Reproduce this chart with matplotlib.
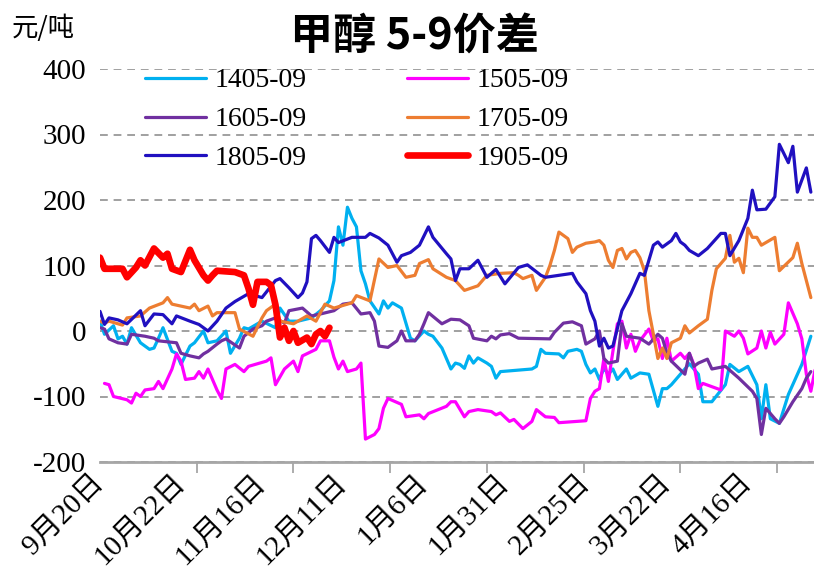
import matplotlib
matplotlib.use("Agg")
import matplotlib.pyplot as plt

plt.rcParams['font.family'] = ['Liberation Serif', 'Noto Sans CJK SC']
plt.rcParams['axes.unicode_minus'] = False

# Dates shown on the axis (every 18 trading days)
date_labels = ["9月20日", "10月22日", "11月16日", "12月11日", "1月6日",
               "1月31日", "2月25日", "3月22日", "4月16日"]
label_pos = [0, 18, 36, 54, 72, 90, 108, 126, 144]

# Spreads (元/吨), x = trading day index from 9/20
x_1405 = [0, 1, 3, 4, 5, 6, 7, 9, 11, 12, 13, 14, 16, 17, 18, 20, 21, 23, 24, 26,
          28, 29, 31, 32, 33, 36, 39, 40, 42, 44, 47, 49, 51, 52, 53, 54, 55, 56, 57, 58,
          59, 60, 62, 63, 64, 65, 67, 69, 70, 72, 73, 74, 76, 78, 79, 80, 81, 82, 83, 84,
          86, 87, 88, 89, 96, 97, 98, 99, 102, 103, 104, 106, 107, 108, 109, 110, 111, 112, 113, 114,
          115, 117, 118, 120, 122, 124, 125, 126, 127, 129, 131, 133, 134, 136, 139, 140, 142, 144, 146, 147,
          148, 149, 151, 153, 156, 158]
y_1405 = [15, -5, 8, -12, -8, -20, 5, -18, -28, -26, -11, 5, -31, -34, -51, -23, -18, 0, -18, -15,
          0, -34, -11, 5, 3, 15, 5, 35, 15, 15, 20, 31, 46, 77, 159, 131, 189, 172, 159, 92,
          72, 46, 26, 46, 35, 43, 35, -11, -15, 0, -5, -8, -26, -58, -49, -51, -57, -38, -49, -41,
          -49, -54, -72, -62, -58, -54, -28, -34, -35, -41, -31, -28, -31, -51, -64, -58, -74, -57, -66, -58,
          -74, -58, -72, -64, -66, -115, -88, -88, -82, -66, -50, -66, -108, -108, -82, -51, -62, -54, -82, -134,
          -82, -134, -141, -97, -51, -8]

x_1505 = [1, 2, 3, 6, 7, 8, 9, 10, 12, 13, 14, 16, 17, 18, 19, 21, 22, 23, 24, 26,
          27, 28, 30, 32, 33, 37, 38, 39, 41, 43, 44, 45, 48, 49, 51, 52, 53, 54, 55, 57,
          58, 59, 61, 62, 63, 64, 67, 68, 71, 72, 73, 77, 78, 79, 81, 82, 84, 87, 88, 89,
          91, 92, 94, 96, 97, 99, 101, 102, 106, 108, 109, 110, 111, 112, 113, 114, 115, 116, 117, 118,
          119, 120, 122, 123, 124, 125, 126, 127, 129, 130, 131, 132, 133, 134, 138, 139, 141, 142, 143, 144,
          146, 147, 148, 149, 150, 152, 153, 155, 156, 157, 158, 159]
y_1505 = [-80, -82, -100, -105, -110, -95, -100, -90, -88, -77, -88, -58, -35, -46, -74, -72, -62, -72, -58, -90,
          -103, -58, -51, -62, -54, -46, -41, -82, -58, -46, -62, -38, -28, -15, -15, -40, -58, -46, -62, -58,
          -49, -165, -158, -149, -118, -103, -112, -131, -128, -134, -126, -115, -108, -108, -131, -123, -120, -123, -128, -125,
          -138, -135, -149, -138, -120, -131, -132, -140, -138, -137, -103, -92, -88, -42, -77, -31, 11, 15, -26, -5,
          -31, -15, 3, -15, -12, -42, -11, -46, -34, -42, -34, -51, -88, -80, -90, 0, -8, 0, -11, -35,
          -26, 0, -26, -2, -20, -5, 43, 11, -12, -66, -92, -57]

x_1605 = [0, 1, 2, 4, 6, 7, 10, 12, 13, 17, 18, 20, 22, 23, 24, 26, 27, 28, 31, 32,
          34, 36, 37, 39, 41, 42, 45, 47, 49, 52, 54, 56, 58, 60, 61, 62, 64, 66, 67, 68,
          70, 71, 72, 73, 76, 78, 80, 82, 83, 86, 87, 88, 89, 91, 93, 100, 101, 103, 105, 107,
          108, 110, 111, 112, 113, 115, 116, 117, 120, 122, 124, 125, 126, 127, 130, 131, 132, 133, 135, 136,
          139, 142, 145, 146, 147, 148, 150, 151, 152, 154, 156, 157, 158]
y_1605 = [5, 3, -12, -18, -20, -5, -8, -11, -15, -18, -34, -38, -41, -35, -31, -20, -15, -12, -26, -8,
          3, 8, 15, 20, 12, 31, 35, 23, 26, 31, 41, 43, 26, 28, 15, -23, -25, -15, 0, -15,
          -15, -5, 11, 28, 11, 18, 17, 8, -11, -15, -8, -12, -6, -4, -11, -12, -2, 12, 14, 8,
          -20, -12, 0, -42, -49, -46, 11, -8, -11, -20, -5, -11, -34, -46, -66, -34, -54, -49, -43, -58,
          -54, -72, -92, -103, -158, -118, -134, -141, -131, -108, -88, -72, -62]

x_1705 = [0, 1, 2, 5, 6, 9, 11, 14, 15, 16, 20, 21, 22, 24, 25, 26, 30, 31, 34, 36,
          37, 39, 40, 43, 46, 48, 50, 52, 56, 57, 60, 62, 64, 66, 68, 70, 71, 73, 74, 77,
          79, 81, 84, 86, 89, 92, 93, 94, 96, 97, 99, 100, 101, 102, 104, 105, 106, 108, 110, 111,
          112, 113, 114, 115, 116, 117, 118, 119, 120, 121, 122, 123, 124, 125, 126, 127, 129, 130, 131, 133,
          135, 136, 137, 139, 140, 141, 142, 143, 144, 145, 146, 147, 150, 151, 154, 155, 156, 158]
y_1705 = [15, 12, 15, 9, 20, 23, 35, 43, 51, 41, 35, 41, 31, 38, 23, 28, 28, 3, -8, 20,
          31, 41, 15, 11, 23, 15, 41, 35, 43, 54, 46, 110, 97, 100, 82, 85, 103, 109, 95, 82,
          77, 62, 69, 85, 88, 89, 85, 80, 85, 62, 82, 100, 123, 151, 141, 120, 128, 134, 136, 138,
          131, 108, 97, 123, 126, 110, 120, 123, 112, 92, 31, -5, -42, -26, -42, -18, -11, 8, -3, 8,
          18, 62, 95, 111, 146, 105, 111, 89, 157, 143, 143, 131, 143, 92, 112, 134, 103, 51]

x_1805 = [0, 1, 2, 4, 6, 9, 10, 12, 14, 16, 17, 20, 22, 24, 26, 28, 30, 33, 36, 39,
          40, 42, 44, 45, 46, 47, 48, 49, 51, 52, 53, 56, 59, 60, 62, 64, 66, 67, 69, 71,
          73, 74, 77, 78, 79, 80, 82, 84, 86, 88, 90, 93, 95, 98, 99, 105, 106, 108, 109, 110,
          111, 112, 113, 114, 116, 118, 120, 121, 123, 124, 125, 127, 128, 129, 130, 131, 133, 135, 138, 139,
          140, 142, 144, 145, 146, 148, 150, 151, 153, 154, 155, 157, 158]
y_1805 = [30, 10, 20, 17, 11, 31, 8, 26, 25, 11, 23, 15, 10, 0, 15, 35, 45, 57, 51, 77,
          80, 66, 51, 58, 75, 141, 146, 138, 120, 143, 135, 143, 143, 149, 142, 131, 105, 115, 120, 131,
          159, 143, 118, 110, 77, 95, 95, 108, 82, 94, 72, 97, 101, 85, 82, 88, 75, 57, 31, 15,
          -23, -11, -26, -23, 31, 57, 88, 85, 131, 136, 128, 138, 149, 136, 131, 123, 115, 126, 149, 149,
          115, 138, 172, 215, 185, 186, 205, 285, 257, 282, 212, 249, 212]

x_1905 = [0, 1, 3, 5, 6, 8, 9, 10, 12, 14, 15, 16, 18, 20, 21, 23, 24, 25, 26, 30,
          32, 33, 34, 35, 37, 38, 39, 40, 41, 42, 43, 44, 46, 47, 48, 49, 50, 51]
y_1905 = [112, 95, 95, 95, 82, 97, 108, 100, 126, 112, 118, 95, 90, 124, 108, 85, 77, 85, 92, 90,
          85, 65, 40, 75, 75, 70, 40, -10, 5, -15, 0, -18, -10, -20, -5, 0, -8, 5]

series = [
    ("1405-09", x_1405, y_1405, "#00B0F0", 2.3),
    ("1505-09", x_1505, y_1505, "#FF00FF", 2.3),
    ("1605-09", x_1605, y_1605, "#7030A0", 2.3),
    ("1705-09", x_1705, y_1705, "#ED7D31", 2.3),
    ("1805-09", x_1805, y_1805, "#2010C0", 2.3),
    ("1905-09", x_1905, y_1905, "#FF0000", 4.8),
]

fig = plt.figure(figsize=(8.14, 5.77), dpi=100)
ax = fig.add_axes([100 / 814, 1 - 462 / 577, 1 - 100 / 814, (462 - 69) / 577])

lines = {}
for name, xs, ys, color, lw in series:
    ln, = ax.plot(xs, ys, color=color, linewidth=lw, label=name,
                  solid_joinstyle="round", solid_capstyle="round")
    lines[name] = ln

ax.set_xlim(0, 158.7)
ax.set_ylim(-200, 400)
ax.set_yticks(range(-200, 401, 100))
ax.tick_params(axis="y", length=0, pad=10, labelsize=21)

# labels every 18 days, tick marks at a different interval (as in the source)
ax.set_xticks(label_pos)
ax.set_xticklabels(date_labels, rotation=45, ha="right", va="center",
                   rotation_mode="anchor", fontsize=21)
ax.tick_params(axis="x", which="major", length=0, pad=12)
ax.set_xticks([i * 21.5 for i in range(8)], minor=True)
ax.tick_params(axis="x", which="minor", length=8, width=1.3, color="#A6A6A6", direction="out")

ax.yaxis.grid(True, color="#A0A0A0", linestyle=(0, (4, 3)), linewidth=1.4)
ax.set_axisbelow(True)
for s in ["top", "right", "left"]:
    ax.spines[s].set_visible(False)
ax.spines["bottom"].set_color("#A6A6A6")
ax.spines["bottom"].set_linewidth(2)

order = ["1405-09", "1605-09", "1805-09", "1505-09", "1705-09", "1905-09"]
ax.legend([lines[n] for n in order], order, ncol=2, frameon=False,
          loc="upper left", bbox_to_anchor=(145 / 814, 1 - 68 / 577),
          bbox_transform=fig.transFigure, fontsize=20, borderpad=0,
          borderaxespad=0, handlelength=2.2, handletextpad=0.3,
          labelspacing=0.48, columnspacing=3.6)

fig.text(414 / 814, 1 - 36 / 577, "甲醇 5-9价差", ha="center", va="center",
         fontsize=31, fontweight="bold", family=["Noto Sans CJK SC", "DejaVu Sans"])
fig.text(12 / 814, 1 - 28 / 577, "元/吨", ha="left", va="center",
         fontsize=19, family=["Noto Sans CJK SC", "DejaVu Sans"])

fig.savefig("out.png", dpi=100)
